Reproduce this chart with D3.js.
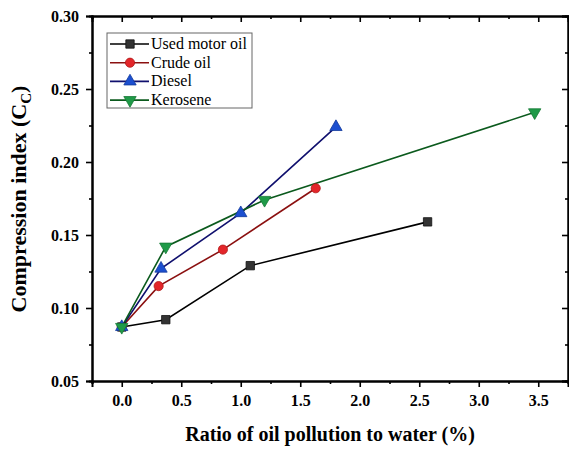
<!DOCTYPE html>
<html>
<head>
<meta charset="utf-8">
<script src="https://cdn.jsdelivr.net/npm/d3@7"></script>
<style>
  body { margin: 0; background: #fff; }
  svg { display: block; }
  text { font-family: "Liberation Serif", "Times New Roman", serif; }
</style>
</head>
<body>
<svg width="569" height="450"></svg>
<script>
// data
var seriesNames = ["Used motor oil", "Crude oil", "Diesel", "Kerosene"];
var usedX = [0, 0.37, 1.08, 2.57];
var usedY = [0.087, 0.092, 0.129, 0.159];
var crudeX = [0, 0.31, 0.85, 1.63];
var crudeY = [0.087, 0.115, 0.140, 0.182];
var dieselX = [0, 0.33, 1.00, 1.80];
var dieselY = [0.087, 0.127, 0.165, 0.224];
var keroX = [0, 0.37, 1.20, 3.47];
var keroY = [0.087, 0.142, 0.174, 0.234];
var xTicks = [0, 0.5, 1.0, 1.5, 2.0, 2.5, 3.0, 3.5];
var yTicks = [0.05, 0.10, 0.15, 0.20, 0.25, 0.30];
var xMinor = [-0.25, 0.25, 0.75, 1.25, 1.75, 2.25, 2.75, 3.25, 3.75];
var yMinor = [0.075, 0.125, 0.175, 0.225, 0.275];

var svg = d3.select("svg");
var mLeft = 92, mRight = 568, mTop = 16, mBottom = 381;
var serif = "Liberation Serif, serif";

var x = d3.scaleLinear().domain([-0.25, 3.75]).range([mLeft, mRight]);
var y = d3.scaleLinear().domain([0.05, 0.30]).range([mBottom, mTop]);

var styles = [
  {line: "#000000", fill: "#333333", stroke: "#111111", shape: d3.symbolSquare, size: 70, rot: 0},
  {line: "#8b1010", fill: "#e3262a", stroke: "#b01818", shape: d3.symbolCircle, size: 66, rot: 0},
  {line: "#10106e", fill: "#1c4fd0", stroke: "#123a9a", shape: d3.symbolTriangle, size: 66, rot: 0},
  {line: "#0b5a1d", fill: "#1f9a48", stroke: "#157a35", shape: d3.symbolTriangle, size: 66, rot: 180}
];

var series = [
  {name: seriesNames[0], xs: usedX, ys: usedY},
  {name: seriesNames[1], xs: crudeX, ys: crudeY},
  {name: seriesNames[2], xs: dieselX, ys: dieselY},
  {name: seriesNames[3], xs: keroX, ys: keroY}
];

// axes: bottom & left outward, top & right inward
var gB = svg.append("g").attr("transform", "translate(0," + mBottom + ")")
  .call(d3.axisBottom(x).tickValues(xTicks).tickSize(6).tickFormat(d3.format(".1f")));
svg.append("g").attr("transform", "translate(0," + mBottom + ")")
  .call(d3.axisBottom(x).tickValues(xMinor).tickSize(3).tickFormat(""));
var gL = svg.append("g").attr("transform", "translate(" + mLeft + ",0)")
  .call(d3.axisLeft(y).tickValues(yTicks).tickSize(6).tickFormat(d3.format(".2f")));
svg.append("g").attr("transform", "translate(" + mLeft + ",0)")
  .call(d3.axisLeft(y).tickValues(yMinor).tickSize(3).tickFormat(""));
svg.append("g").attr("transform", "translate(0," + mTop + ")")
  .call(d3.axisTop(x).tickValues(xTicks).tickSize(-6).tickFormat(""));
svg.append("g").attr("transform", "translate(0," + mTop + ")")
  .call(d3.axisTop(x).tickValues(xMinor).tickSize(-3).tickFormat(""));
svg.append("g").attr("transform", "translate(" + mRight + ",0)")
  .call(d3.axisRight(y).tickValues(yTicks).tickSize(-6).tickFormat(""));
svg.append("g").attr("transform", "translate(" + mRight + ",0)")
  .call(d3.axisRight(y).tickValues(yMinor).tickSize(-3).tickFormat(""));

svg.selectAll(".domain").attr("stroke", "#000").attr("stroke-width", 2);
svg.selectAll(".tick line").attr("stroke", "#000").attr("stroke-width", 1.6);

gB.selectAll("text").attr("font-size", 16).attr("font-weight", "bold").attr("dy", "1.0em")
  .attr("font-family", serif);
gL.selectAll("text").attr("font-size", 16).attr("font-weight", "bold").attr("dx", "-0.25em")
  .attr("font-family", serif);

// axis titles
svg.append("text")
  .attr("x", (mLeft + mRight) / 2).attr("y", 441)
  .attr("text-anchor", "middle").attr("font-size", 20).attr("font-weight", "bold")
  .attr("font-family", serif)
  .text("Ratio of oil pollution to water (%)");

var yt = svg.append("text")
  .attr("transform", "translate(26,199) rotate(-90)")
  .attr("text-anchor", "middle").attr("font-size", 22).attr("font-weight", "bold")
  .attr("font-family", serif);
yt.append("tspan").text("Compression index (C");
yt.append("tspan").attr("font-size", 15).attr("dy", 5).text("C");
yt.append("tspan").attr("dy", -5).text(")");

// lines and markers
var line = d3.line().x(function(d){ return x(d[0]); }).y(function(d){ return y(d[1]); });

series.forEach(function(s, i) {
  var st = styles[i];
  var pts = s.xs.map(function(v, j){ return [v, s.ys[j]]; });
  svg.append("path").datum(pts)
    .attr("d", line).attr("fill", "none")
    .attr("stroke", st.line).attr("stroke-width", 1.6);
});
series.forEach(function(s, i) {
  var st = styles[i];
  var pts = s.xs.map(function(v, j){ return [v, s.ys[j]]; });
  svg.append("g").selectAll("path").data(pts).join("path")
    .attr("d", d3.symbol().type(st.shape).size(st.size))
    .attr("transform", function(d){ return "translate(" + x(d[0]) + "," + y(d[1]) + ") rotate(" + st.rot + ")"; })
    .attr("fill", st.fill).attr("stroke", st.stroke).attr("stroke-width", 0.8);
});

// legend
var lg = svg.append("g").attr("transform", "translate(107,33)");
lg.append("rect").attr("width", 145).attr("height", 75)
  .attr("fill", "#fff").attr("stroke", "#666").attr("stroke-width", 1);
series.forEach(function(s, i) {
  var st = styles[i];
  var ry = 11 + i * 18.7;
  lg.append("line").attr("x1", 3).attr("x2", 42).attr("y1", ry).attr("y2", ry)
    .attr("stroke", st.line).attr("stroke-width", 1.6);
  lg.append("path").attr("d", d3.symbol().type(st.shape).size(st.size))
    .attr("transform", "translate(23," + ry + ") rotate(" + st.rot + ")")
    .attr("fill", st.fill).attr("stroke", st.stroke).attr("stroke-width", 0.8);
  lg.append("text").attr("x", 44).attr("y", ry + 5)
    .attr("font-size", 16).attr("font-family", serif).text(s.name);
});
</script>
</body>
</html>
